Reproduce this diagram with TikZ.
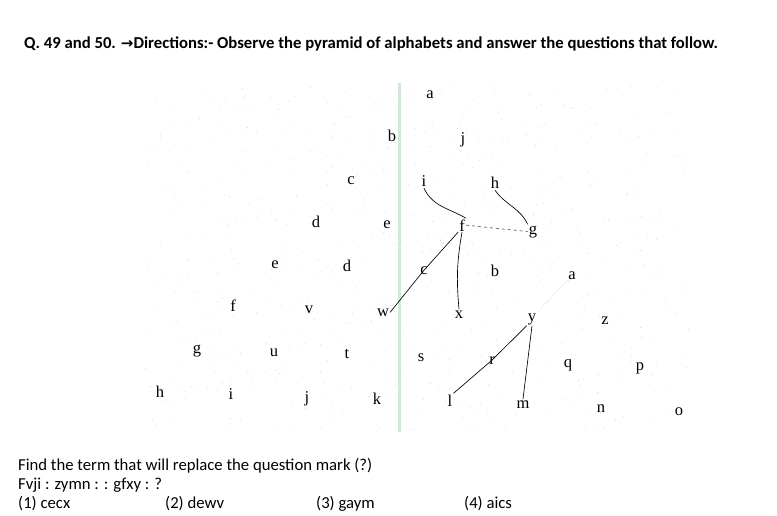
\documentclass[tikz,border=0pt]{standalone}
\usepackage{fontspec}
\setmainfont{Carlito}
\newfontfamily\pyr{Liberation Serif}
\newfontfamily\arr{DejaVu Sans}
\definecolor{mint}{RGB}{212,232,214}
\begin{document}
\begin{tikzpicture}[x=1pt,y=-1pt,
  ltr/.style={font=\pyr\fontsize{16.5}{16}\selectfont, anchor=base, inner sep=1pt},
  txt/.style={font=\fontsize{16.7}{18}\selectfont, anchor=base west, inner sep=0pt},
  hand/.style={line width=0.65pt, black},
]
\useasboundingbox (0,0) rectangle (777,516);
\fill[white] (0,0) rectangle (777,516);
% scan speckles
\pgfmathsetseed{7}
\foreach \k in {1,...,700}{
  \pgfmathsetmacro{\px}{145+545*rnd}
  \pgfmathsetmacro{\py}{85+345*rnd}
  \fill[gray!35] (\px,\py) circle (0.45);
}
% green fold line
\draw[mint, line width=3pt] (399,83) -- (399,432);
% title
\node[txt, font=\bfseries\fontsize{16.7}{18}\selectfont] (title) at (24,49) {Q. 49 and 50. {\arr\bfseries\fontsize{15}{16}\selectfont →}Directions:- Observe the pyramid of alphabets and answer the questions that follow.};
% row 1
\node[ltr] (a1) at (430,99) {a};
% row 2
\node[ltr] (b2) at (392,142) {b};
\node[ltr] (j2) at (463,144) {j};
% row 3
\node[ltr] (c3) at (351,185) {c};
\node[ltr] (i3) at (424,187) {i};
\node[ltr] (h3) at (495,189) {h};
% row 4
\node[ltr] (d4) at (316,227) {d};
\node[ltr] (e4) at (387,229) {e};
\node[ltr] (f4) at (462,231) {f};
\node[ltr] (g4) at (533,234) {g};
% row 5
\node[ltr] (e5) at (275,269) {e};
\node[ltr] (d5) at (347,271) {d};
\node[ltr] (c5) at (424,274) {c};
\node[ltr] (b5) at (495,276) {b};
\node[ltr] (a5) at (572,279) {a};
% row 6
\node[ltr] (f6) at (233,311) {f};
\node[ltr] (v6) at (309,313) {v};
\node[ltr] (w6) at (383,316) {w};
\node[ltr] (x6) at (459,318) {x};
\node[ltr] (y6) at (532,321) {y};
\node[ltr] (z6) at (605,324) {z};
% row 7
\node[ltr] (g7) at (197,353) {g};
\node[ltr] (u7) at (274,356) {u};
\node[ltr] (t7) at (347,358) {t};
\node[ltr] (s7) at (421,361) {s};
\node[ltr] (r7) at (492,364) {r};
\node[ltr] (q7) at (568,367) {q};
\node[ltr] (p7) at (640,370) {p};
% row 8
\node[ltr] (h8) at (160,397) {h};
\node[ltr] (i8) at (231,399) {i};
\node[ltr] (j8) at (307,402) {j};
\node[ltr] (k8) at (377,404) {k};
\node[ltr] (l8) at (450,406) {l};
\node[ltr] (m8) at (523,408) {m};
\node[ltr] (n8) at (601,412) {n};
\node[ltr] (o8) at (679,415) {o};
% connectors
\draw[hand] (i3.south) to[out=-65,in=150] (f4.north east);
\draw[hand] (h3.south) to[out=-55,in=115] (g4.north west);
\draw[gray!80!black, dashed, line width=0.7pt] (f4.east) -- (g4.west);
\draw[hand] (f4.south west) -- (c5.center) -- (w6.east);
\draw[hand] (f4.south) to[out=-100,in=95] (x6.north);
\draw[gray!50, dotted, line width=0.6pt] (a5.south west) -- (y6.north east);
\draw[hand] (y6.south west) -- (r7.center) -- (l8.north east);
\draw[hand] (y6.south) -- (m8.north);
% bottom text
\node[txt] (q1) at (18,470) {Find the term that will replace the question mark (?)};
\node[txt] (q2) at (18,489) {Fvji : zymn : : gfxy : ?};
\node[txt] (o1) at (18,508) {(1) cecx};
\node[txt] (o2) at (165,508) {(2) dewv};
\node[txt] (o3) at (316,508) {(3) gaym};
\node[txt] (o4) at (464,508) {(4) aics};
\end{tikzpicture}
\end{document}
